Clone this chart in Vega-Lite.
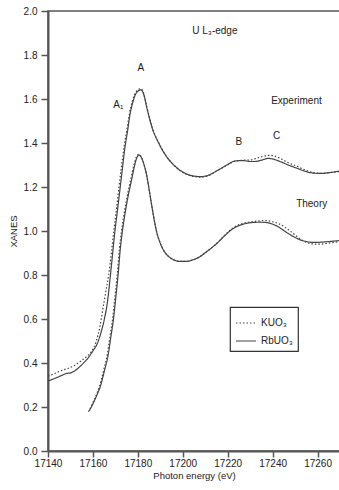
{
  "$schema": "https://vega.github.io/schema/vega-lite/v6.json",
  "width": 292,
  "height": 440,
  "autosize": "none",
  "padding": {"left": 48, "top": 11, "right": 0, "bottom": 39},
  "background": "white",
  "config": {
    "font": "Liberation Sans",
    "view": {"stroke": "#555", "strokeWidth": 1.5},
    "axis": {
      "grid": false,
      "domainColor": "#555",
      "domainWidth": 2,
      "tickColor": "#555",
      "tickWidth": 1.5,
      "labelColor": "#222",
      "labelFontSize": 10,
      "labelFont": "Liberation Sans",
      "titleFont": "Liberation Sans",
      "titleFontSize": 9.5,
      "titleFontWeight": "normal",
      "titleColor": "#222",
      "labelFlush": false,
      "labelOverlap": false
    },
    "legend": {
      "orient": "none",
      "legendX": 182,
      "legendY": 296,
      "strokeColor": "#333",
      "strokeWidth": 1.2,
      "padding": 5,
      "labelFont": "Liberation Sans",
      "labelFontSize": 10,
      "labelColor": "#222",
      "symbolType": "stroke",
      "symbolStrokeColor": "#444",
      "symbolStrokeWidth": 1.2,
      "symbolSize": 400,
      "rowPadding": 2
    }
  },
  "datasets": {
    "curves": [
      {"set": "exp", "compound": "RbUO₃", "energy": 17140, "xanes": 0.318},
      {"set": "exp", "compound": "RbUO₃", "energy": 17143, "xanes": 0.330},
      {"set": "exp", "compound": "RbUO₃", "energy": 17146, "xanes": 0.343},
      {"set": "exp", "compound": "RbUO₃", "energy": 17148, "xanes": 0.352},
      {"set": "exp", "compound": "RbUO₃", "energy": 17150, "xanes": 0.355},
      {"set": "exp", "compound": "RbUO₃", "energy": 17152, "xanes": 0.365},
      {"set": "exp", "compound": "RbUO₃", "energy": 17154, "xanes": 0.382},
      {"set": "exp", "compound": "RbUO₃", "energy": 17156, "xanes": 0.402},
      {"set": "exp", "compound": "RbUO₃", "energy": 17158, "xanes": 0.425},
      {"set": "exp", "compound": "RbUO₃", "energy": 17160, "xanes": 0.455},
      {"set": "exp", "compound": "RbUO₃", "energy": 17162, "xanes": 0.49},
      {"set": "exp", "compound": "RbUO₃", "energy": 17163.5, "xanes": 0.535},
      {"set": "exp", "compound": "RbUO₃", "energy": 17165, "xanes": 0.595},
      {"set": "exp", "compound": "RbUO₃", "energy": 17166.5, "xanes": 0.68},
      {"set": "exp", "compound": "RbUO₃", "energy": 17167.6, "xanes": 0.78},
      {"set": "exp", "compound": "RbUO₃", "energy": 17168.7, "xanes": 0.89},
      {"set": "exp", "compound": "RbUO₃", "energy": 17169.8, "xanes": 1.0},
      {"set": "exp", "compound": "RbUO₃", "energy": 17171, "xanes": 1.10},
      {"set": "exp", "compound": "RbUO₃", "energy": 17172, "xanes": 1.186},
      {"set": "exp", "compound": "RbUO₃", "energy": 17173.2, "xanes": 1.29},
      {"set": "exp", "compound": "RbUO₃", "energy": 17174.3, "xanes": 1.383},
      {"set": "exp", "compound": "RbUO₃", "energy": 17175.5, "xanes": 1.46},
      {"set": "exp", "compound": "RbUO₃", "energy": 17176.5, "xanes": 1.53},
      {"set": "exp", "compound": "RbUO₃", "energy": 17177.5, "xanes": 1.575},
      {"set": "exp", "compound": "RbUO₃", "energy": 17178.7, "xanes": 1.615},
      {"set": "exp", "compound": "RbUO₃", "energy": 17180, "xanes": 1.635},
      {"set": "exp", "compound": "RbUO₃", "energy": 17181.4, "xanes": 1.642},
      {"set": "exp", "compound": "RbUO₃", "energy": 17182.7, "xanes": 1.618},
      {"set": "exp", "compound": "RbUO₃", "energy": 17184, "xanes": 1.56},
      {"set": "exp", "compound": "RbUO₃", "energy": 17186.5, "xanes": 1.465},
      {"set": "exp", "compound": "RbUO₃", "energy": 17189.5, "xanes": 1.395},
      {"set": "exp", "compound": "RbUO₃", "energy": 17193, "xanes": 1.335},
      {"set": "exp", "compound": "RbUO₃", "energy": 17196, "xanes": 1.300},
      {"set": "exp", "compound": "RbUO₃", "energy": 17200, "xanes": 1.268},
      {"set": "exp", "compound": "RbUO₃", "energy": 17204.7, "xanes": 1.25},
      {"set": "exp", "compound": "RbUO₃", "energy": 17208, "xanes": 1.247},
      {"set": "exp", "compound": "RbUO₃", "energy": 17211, "xanes": 1.252},
      {"set": "exp", "compound": "RbUO₃", "energy": 17215.8, "xanes": 1.277},
      {"set": "exp", "compound": "RbUO₃", "energy": 17220, "xanes": 1.302},
      {"set": "exp", "compound": "RbUO₃", "energy": 17223.2, "xanes": 1.318},
      {"set": "exp", "compound": "RbUO₃", "energy": 17226.9, "xanes": 1.32},
      {"set": "exp", "compound": "RbUO₃", "energy": 17230, "xanes": 1.316},
      {"set": "exp", "compound": "RbUO₃", "energy": 17232.2, "xanes": 1.316},
      {"set": "exp", "compound": "RbUO₃", "energy": 17235, "xanes": 1.322},
      {"set": "exp", "compound": "RbUO₃", "energy": 17238.1, "xanes": 1.33},
      {"set": "exp", "compound": "RbUO₃", "energy": 17240.5, "xanes": 1.326},
      {"set": "exp", "compound": "RbUO₃", "energy": 17243.5, "xanes": 1.315},
      {"set": "exp", "compound": "RbUO₃", "energy": 17247, "xanes": 1.30},
      {"set": "exp", "compound": "RbUO₃", "energy": 17250.9, "xanes": 1.285},
      {"set": "exp", "compound": "RbUO₃", "energy": 17255, "xanes": 1.27},
      {"set": "exp", "compound": "RbUO₃", "energy": 17258.3, "xanes": 1.263},
      {"set": "exp", "compound": "RbUO₃", "energy": 17262, "xanes": 1.262},
      {"set": "exp", "compound": "RbUO₃", "energy": 17265, "xanes": 1.265},
      {"set": "exp", "compound": "RbUO₃", "energy": 17270, "xanes": 1.273},

      {"set": "exp", "compound": "KUO₃", "energy": 17140, "xanes": 0.34},
      {"set": "exp", "compound": "KUO₃", "energy": 17143, "xanes": 0.352},
      {"set": "exp", "compound": "KUO₃", "energy": 17146, "xanes": 0.366},
      {"set": "exp", "compound": "KUO₃", "energy": 17149, "xanes": 0.376},
      {"set": "exp", "compound": "KUO₃", "energy": 17152, "xanes": 0.39},
      {"set": "exp", "compound": "KUO₃", "energy": 17155, "xanes": 0.412},
      {"set": "exp", "compound": "KUO₃", "energy": 17157.5, "xanes": 0.432},
      {"set": "exp", "compound": "KUO₃", "energy": 17159.5, "xanes": 0.455},
      {"set": "exp", "compound": "KUO₃", "energy": 17161.5, "xanes": 0.50},
      {"set": "exp", "compound": "KUO₃", "energy": 17163, "xanes": 0.56},
      {"set": "exp", "compound": "KUO₃", "energy": 17164.5, "xanes": 0.65},
      {"set": "exp", "compound": "KUO₃", "energy": 17166, "xanes": 0.74},
      {"set": "exp", "compound": "KUO₃", "energy": 17167, "xanes": 0.80},
      {"set": "exp", "compound": "KUO₃", "energy": 17168.2, "xanes": 0.90},
      {"set": "exp", "compound": "KUO₃", "energy": 17169.3, "xanes": 1.0},
      {"set": "exp", "compound": "KUO₃", "energy": 17170.6, "xanes": 1.11},
      {"set": "exp", "compound": "KUO₃", "energy": 17171.6, "xanes": 1.2},
      {"set": "exp", "compound": "KUO₃", "energy": 17172.8, "xanes": 1.3},
      {"set": "exp", "compound": "KUO₃", "energy": 17174, "xanes": 1.39},
      {"set": "exp", "compound": "KUO₃", "energy": 17175.2, "xanes": 1.465},
      {"set": "exp", "compound": "KUO₃", "energy": 17176.3, "xanes": 1.535},
      {"set": "exp", "compound": "KUO₃", "energy": 17177.4, "xanes": 1.585},
      {"set": "exp", "compound": "KUO₃", "energy": 17178.6, "xanes": 1.622},
      {"set": "exp", "compound": "KUO₃", "energy": 17180, "xanes": 1.641},
      {"set": "exp", "compound": "KUO₃", "energy": 17181.3, "xanes": 1.647},
      {"set": "exp", "compound": "KUO₃", "energy": 17182.7, "xanes": 1.623},
      {"set": "exp", "compound": "KUO₃", "energy": 17184, "xanes": 1.565},
      {"set": "exp", "compound": "KUO₃", "energy": 17186.5, "xanes": 1.468},
      {"set": "exp", "compound": "KUO₃", "energy": 17189.5, "xanes": 1.397},
      {"set": "exp", "compound": "KUO₃", "energy": 17193, "xanes": 1.335},
      {"set": "exp", "compound": "KUO₃", "energy": 17196, "xanes": 1.299},
      {"set": "exp", "compound": "KUO₃", "energy": 17200, "xanes": 1.266},
      {"set": "exp", "compound": "KUO₃", "energy": 17204.7, "xanes": 1.248},
      {"set": "exp", "compound": "KUO₃", "energy": 17208, "xanes": 1.245},
      {"set": "exp", "compound": "KUO₃", "energy": 17211, "xanes": 1.25},
      {"set": "exp", "compound": "KUO₃", "energy": 17215.8, "xanes": 1.277},
      {"set": "exp", "compound": "KUO₃", "energy": 17220, "xanes": 1.30},
      {"set": "exp", "compound": "KUO₃", "energy": 17223.2, "xanes": 1.318},
      {"set": "exp", "compound": "KUO₃", "energy": 17226.9, "xanes": 1.322},
      {"set": "exp", "compound": "KUO₃", "energy": 17230, "xanes": 1.323},
      {"set": "exp", "compound": "KUO₃", "energy": 17233, "xanes": 1.331},
      {"set": "exp", "compound": "KUO₃", "energy": 17236, "xanes": 1.34},
      {"set": "exp", "compound": "KUO₃", "energy": 17238.5, "xanes": 1.344},
      {"set": "exp", "compound": "KUO₃", "energy": 17241, "xanes": 1.34},
      {"set": "exp", "compound": "KUO₃", "energy": 17244, "xanes": 1.327},
      {"set": "exp", "compound": "KUO₃", "energy": 17247, "xanes": 1.31},
      {"set": "exp", "compound": "KUO₃", "energy": 17250.9, "xanes": 1.294},
      {"set": "exp", "compound": "KUO₃", "energy": 17255, "xanes": 1.275},
      {"set": "exp", "compound": "KUO₃", "energy": 17258.3, "xanes": 1.265},
      {"set": "exp", "compound": "KUO₃", "energy": 17262, "xanes": 1.262},
      {"set": "exp", "compound": "KUO₃", "energy": 17265, "xanes": 1.265},
      {"set": "exp", "compound": "KUO₃", "energy": 17270, "xanes": 1.27},

      {"set": "theory", "compound": "RbUO₃", "energy": 17158.4, "xanes": 0.183},
      {"set": "theory", "compound": "RbUO₃", "energy": 17160.5, "xanes": 0.225},
      {"set": "theory", "compound": "RbUO₃", "energy": 17162, "xanes": 0.26},
      {"set": "theory", "compound": "RbUO₃", "energy": 17163.2, "xanes": 0.29},
      {"set": "theory", "compound": "RbUO₃", "energy": 17165, "xanes": 0.36},
      {"set": "theory", "compound": "RbUO₃", "energy": 17166.9, "xanes": 0.444},
      {"set": "theory", "compound": "RbUO₃", "energy": 17168, "xanes": 0.52},
      {"set": "theory", "compound": "RbUO₃", "energy": 17169.1, "xanes": 0.595},
      {"set": "theory", "compound": "RbUO₃", "energy": 17170.2, "xanes": 0.70},
      {"set": "theory", "compound": "RbUO₃", "energy": 17171.2, "xanes": 0.80},
      {"set": "theory", "compound": "RbUO₃", "energy": 17172.2, "xanes": 0.92},
      {"set": "theory", "compound": "RbUO₃", "energy": 17173.2, "xanes": 1.005},
      {"set": "theory", "compound": "RbUO₃", "energy": 17174.3, "xanes": 1.08},
      {"set": "theory", "compound": "RbUO₃", "energy": 17175.7, "xanes": 1.16},
      {"set": "theory", "compound": "RbUO₃", "energy": 17177.2, "xanes": 1.232},
      {"set": "theory", "compound": "RbUO₃", "energy": 17178.5, "xanes": 1.295},
      {"set": "theory", "compound": "RbUO₃", "energy": 17179.5, "xanes": 1.332},
      {"set": "theory", "compound": "RbUO₃", "energy": 17180.5, "xanes": 1.345},
      {"set": "theory", "compound": "RbUO₃", "energy": 17181.5, "xanes": 1.335},
      {"set": "theory", "compound": "RbUO₃", "energy": 17182.8, "xanes": 1.30},
      {"set": "theory", "compound": "RbUO₃", "energy": 17184, "xanes": 1.25},
      {"set": "theory", "compound": "RbUO₃", "energy": 17185, "xanes": 1.19},
      {"set": "theory", "compound": "RbUO₃", "energy": 17186.2, "xanes": 1.115},
      {"set": "theory", "compound": "RbUO₃", "energy": 17187.3, "xanes": 1.05},
      {"set": "theory", "compound": "RbUO₃", "energy": 17188.4, "xanes": 0.995},
      {"set": "theory", "compound": "RbUO₃", "energy": 17189.8, "xanes": 0.95},
      {"set": "theory", "compound": "RbUO₃", "energy": 17191.3, "xanes": 0.915},
      {"set": "theory", "compound": "RbUO₃", "energy": 17193.5, "xanes": 0.886},
      {"set": "theory", "compound": "RbUO₃", "energy": 17195.8, "xanes": 0.87},
      {"set": "theory", "compound": "RbUO₃", "energy": 17198.7, "xanes": 0.862},
      {"set": "theory", "compound": "RbUO₃", "energy": 17201.7, "xanes": 0.862},
      {"set": "theory", "compound": "RbUO₃", "energy": 17204.5, "xanes": 0.869},
      {"set": "theory", "compound": "RbUO₃", "energy": 17207.6, "xanes": 0.883},
      {"set": "theory", "compound": "RbUO₃", "energy": 17210.5, "xanes": 0.905},
      {"set": "theory", "compound": "RbUO₃", "energy": 17213.5, "xanes": 0.929},
      {"set": "theory", "compound": "RbUO₃", "energy": 17215, "xanes": 0.942},
      {"set": "theory", "compound": "RbUO₃", "energy": 17218.5, "xanes": 0.977},
      {"set": "theory", "compound": "RbUO₃", "energy": 17222.4, "xanes": 1.011},
      {"set": "theory", "compound": "RbUO₃", "energy": 17226.9, "xanes": 1.031},
      {"set": "theory", "compound": "RbUO₃", "energy": 17230.5, "xanes": 1.038},
      {"set": "theory", "compound": "RbUO₃", "energy": 17234.3, "xanes": 1.04},
      {"set": "theory", "compound": "RbUO₃", "energy": 17237.5, "xanes": 1.038},
      {"set": "theory", "compound": "RbUO₃", "energy": 17240.3, "xanes": 1.03},
      {"set": "theory", "compound": "RbUO₃", "energy": 17242.5, "xanes": 1.019},
      {"set": "theory", "compound": "RbUO₃", "energy": 17244.7, "xanes": 1.004},
      {"set": "theory", "compound": "RbUO₃", "energy": 17249.2, "xanes": 0.975},
      {"set": "theory", "compound": "RbUO₃", "energy": 17252, "xanes": 0.961},
      {"set": "theory", "compound": "RbUO₃", "energy": 17255.1, "xanes": 0.952},
      {"set": "theory", "compound": "RbUO₃", "energy": 17258, "xanes": 0.948},
      {"set": "theory", "compound": "RbUO₃", "energy": 17261.1, "xanes": 0.949},
      {"set": "theory", "compound": "RbUO₃", "energy": 17265, "xanes": 0.952},
      {"set": "theory", "compound": "RbUO₃", "energy": 17270, "xanes": 0.957},

      {"set": "theory", "compound": "KUO₃", "energy": 17158, "xanes": 0.178},
      {"set": "theory", "compound": "KUO₃", "energy": 17160, "xanes": 0.22},
      {"set": "theory", "compound": "KUO₃", "energy": 17161.7, "xanes": 0.26},
      {"set": "theory", "compound": "KUO₃", "energy": 17162.8, "xanes": 0.29},
      {"set": "theory", "compound": "KUO₃", "energy": 17164.6, "xanes": 0.36},
      {"set": "theory", "compound": "KUO₃", "energy": 17166.5, "xanes": 0.444},
      {"set": "theory", "compound": "KUO₃", "energy": 17167.6, "xanes": 0.52},
      {"set": "theory", "compound": "KUO₃", "energy": 17168.7, "xanes": 0.595},
      {"set": "theory", "compound": "KUO₃", "energy": 17169.8, "xanes": 0.70},
      {"set": "theory", "compound": "KUO₃", "energy": 17170.8, "xanes": 0.80},
      {"set": "theory", "compound": "KUO₃", "energy": 17171.8, "xanes": 0.92},
      {"set": "theory", "compound": "KUO₃", "energy": 17172.8, "xanes": 1.005},
      {"set": "theory", "compound": "KUO₃", "energy": 17173.9, "xanes": 1.08},
      {"set": "theory", "compound": "KUO₃", "energy": 17175.3, "xanes": 1.16},
      {"set": "theory", "compound": "KUO₃", "energy": 17176.8, "xanes": 1.232},
      {"set": "theory", "compound": "KUO₃", "energy": 17178.2, "xanes": 1.297},
      {"set": "theory", "compound": "KUO₃", "energy": 17179.3, "xanes": 1.335},
      {"set": "theory", "compound": "KUO₃", "energy": 17180.4, "xanes": 1.348},
      {"set": "theory", "compound": "KUO₃", "energy": 17181.5, "xanes": 1.338},
      {"set": "theory", "compound": "KUO₃", "energy": 17182.8, "xanes": 1.30},
      {"set": "theory", "compound": "KUO₃", "energy": 17184, "xanes": 1.25},
      {"set": "theory", "compound": "KUO₃", "energy": 17185, "xanes": 1.19},
      {"set": "theory", "compound": "KUO₃", "energy": 17186.2, "xanes": 1.115},
      {"set": "theory", "compound": "KUO₃", "energy": 17187.3, "xanes": 1.05},
      {"set": "theory", "compound": "KUO₃", "energy": 17188.4, "xanes": 0.995},
      {"set": "theory", "compound": "KUO₃", "energy": 17189.8, "xanes": 0.95},
      {"set": "theory", "compound": "KUO₃", "energy": 17191.3, "xanes": 0.915},
      {"set": "theory", "compound": "KUO₃", "energy": 17193.5, "xanes": 0.886},
      {"set": "theory", "compound": "KUO₃", "energy": 17195.8, "xanes": 0.87},
      {"set": "theory", "compound": "KUO₃", "energy": 17198.7, "xanes": 0.862},
      {"set": "theory", "compound": "KUO₃", "energy": 17201.7, "xanes": 0.862},
      {"set": "theory", "compound": "KUO₃", "energy": 17204.5, "xanes": 0.869},
      {"set": "theory", "compound": "KUO₃", "energy": 17207.6, "xanes": 0.883},
      {"set": "theory", "compound": "KUO₃", "energy": 17210.5, "xanes": 0.905},
      {"set": "theory", "compound": "KUO₃", "energy": 17213.5, "xanes": 0.929},
      {"set": "theory", "compound": "KUO₃", "energy": 17215, "xanes": 0.942},
      {"set": "theory", "compound": "KUO₃", "energy": 17218.5, "xanes": 0.979},
      {"set": "theory", "compound": "KUO₃", "energy": 17222.4, "xanes": 1.014},
      {"set": "theory", "compound": "KUO₃", "energy": 17226.9, "xanes": 1.035},
      {"set": "theory", "compound": "KUO₃", "energy": 17230.5, "xanes": 1.042},
      {"set": "theory", "compound": "KUO₃", "energy": 17234.3, "xanes": 1.046},
      {"set": "theory", "compound": "KUO₃", "energy": 17237, "xanes": 1.047},
      {"set": "theory", "compound": "KUO₃", "energy": 17240, "xanes": 1.042},
      {"set": "theory", "compound": "KUO₃", "energy": 17243, "xanes": 1.032},
      {"set": "theory", "compound": "KUO₃", "energy": 17246, "xanes": 1.014},
      {"set": "theory", "compound": "KUO₃", "energy": 17249, "xanes": 0.99},
      {"set": "theory", "compound": "KUO₃", "energy": 17252, "xanes": 0.966},
      {"set": "theory", "compound": "KUO₃", "energy": 17255.1, "xanes": 0.948},
      {"set": "theory", "compound": "KUO₃", "energy": 17258, "xanes": 0.941},
      {"set": "theory", "compound": "KUO₃", "energy": 17261, "xanes": 0.94},
      {"set": "theory", "compound": "KUO₃", "energy": 17265, "xanes": 0.945},
      {"set": "theory", "compound": "KUO₃", "energy": 17270, "xanes": 0.952}
    ],
    "labels": [
      {"label": "U L₃-edge", "energy": 17214.3, "xanes": 1.909},
      {"label": "A", "energy": 17181.3, "xanes": 1.740},
      {"label": "A₁", "energy": 17171.3, "xanes": 1.573},
      {"label": "Experiment", "energy": 17250.6, "xanes": 1.592},
      {"label": "B", "energy": 17225.0, "xanes": 1.406},
      {"label": "C", "energy": 17241.8, "xanes": 1.432},
      {"label": "Theory", "energy": 17257.4, "xanes": 1.123}
    ]
  },
  "layer": [
    {
      "data": {"name": "curves"},
      "mark": {"type": "line", "strokeWidth": 1.2, "color": "#444", "clip": true, "interpolate": "monotone"},
      "encoding": {
        "x": {
          "field": "energy", "type": "quantitative",
          "scale": {"domain": [17140, 17270], "nice": false, "zero": false},
          "axis": {
            "title": "Photon energy (eV)",
            "values": [17140, 17150, 17160, 17170, 17180, 17190, 17200, 17210, 17220, 17230, 17240, 17250, 17260, 17270],
            "format": "d",
            "labelExpr": "datum.value % 20 === 0 ? datum.label : ''",
            "tickSize": {"condition": {"test": "datum.value % 20 === 0", "value": 6}, "value": 3.5},
            "labelPadding": 1,
            "titlePadding": 2
          }
        },
        "y": {
          "field": "xanes", "type": "quantitative",
          "scale": {"domain": [0, 2], "nice": false},
          "axis": {
            "title": "XANES",
            "values": [0, 0.1, 0.2, 0.3, 0.4, 0.5, 0.6, 0.7, 0.8, 0.9, 1.0, 1.1, 1.2, 1.3, 1.4, 1.5, 1.6, 1.7, 1.8, 1.9, 2.0],
            "format": ".1f",
            "labelExpr": "round(datum.value * 10) % 2 === 0 ? datum.label : ''",
            "tickSize": {"condition": {"test": "round(datum.value * 10) % 2 === 0", "value": 7}, "value": 4},
            "labelPadding": 4,
            "titlePadding": 5
          }
        },
        "strokeDash": {
          "field": "compound", "type": "nominal",
          "scale": {"domain": ["KUO₃", "RbUO₃"], "range": [[1.5, 2], [1, 0]]},
          "legend": {"title": null}
        },
        "detail": {"field": "set"}
      }
    },
    {
      "data": {"name": "labels"},
      "mark": {"type": "text", "fontSize": 10, "color": "#222", "font": "Liberation Sans", "baseline": "middle", "align": "center"},
      "encoding": {
        "x": {"field": "energy", "type": "quantitative"},
        "y": {"field": "xanes", "type": "quantitative"},
        "text": {"field": "label"}
      }
    }
  ]
}
